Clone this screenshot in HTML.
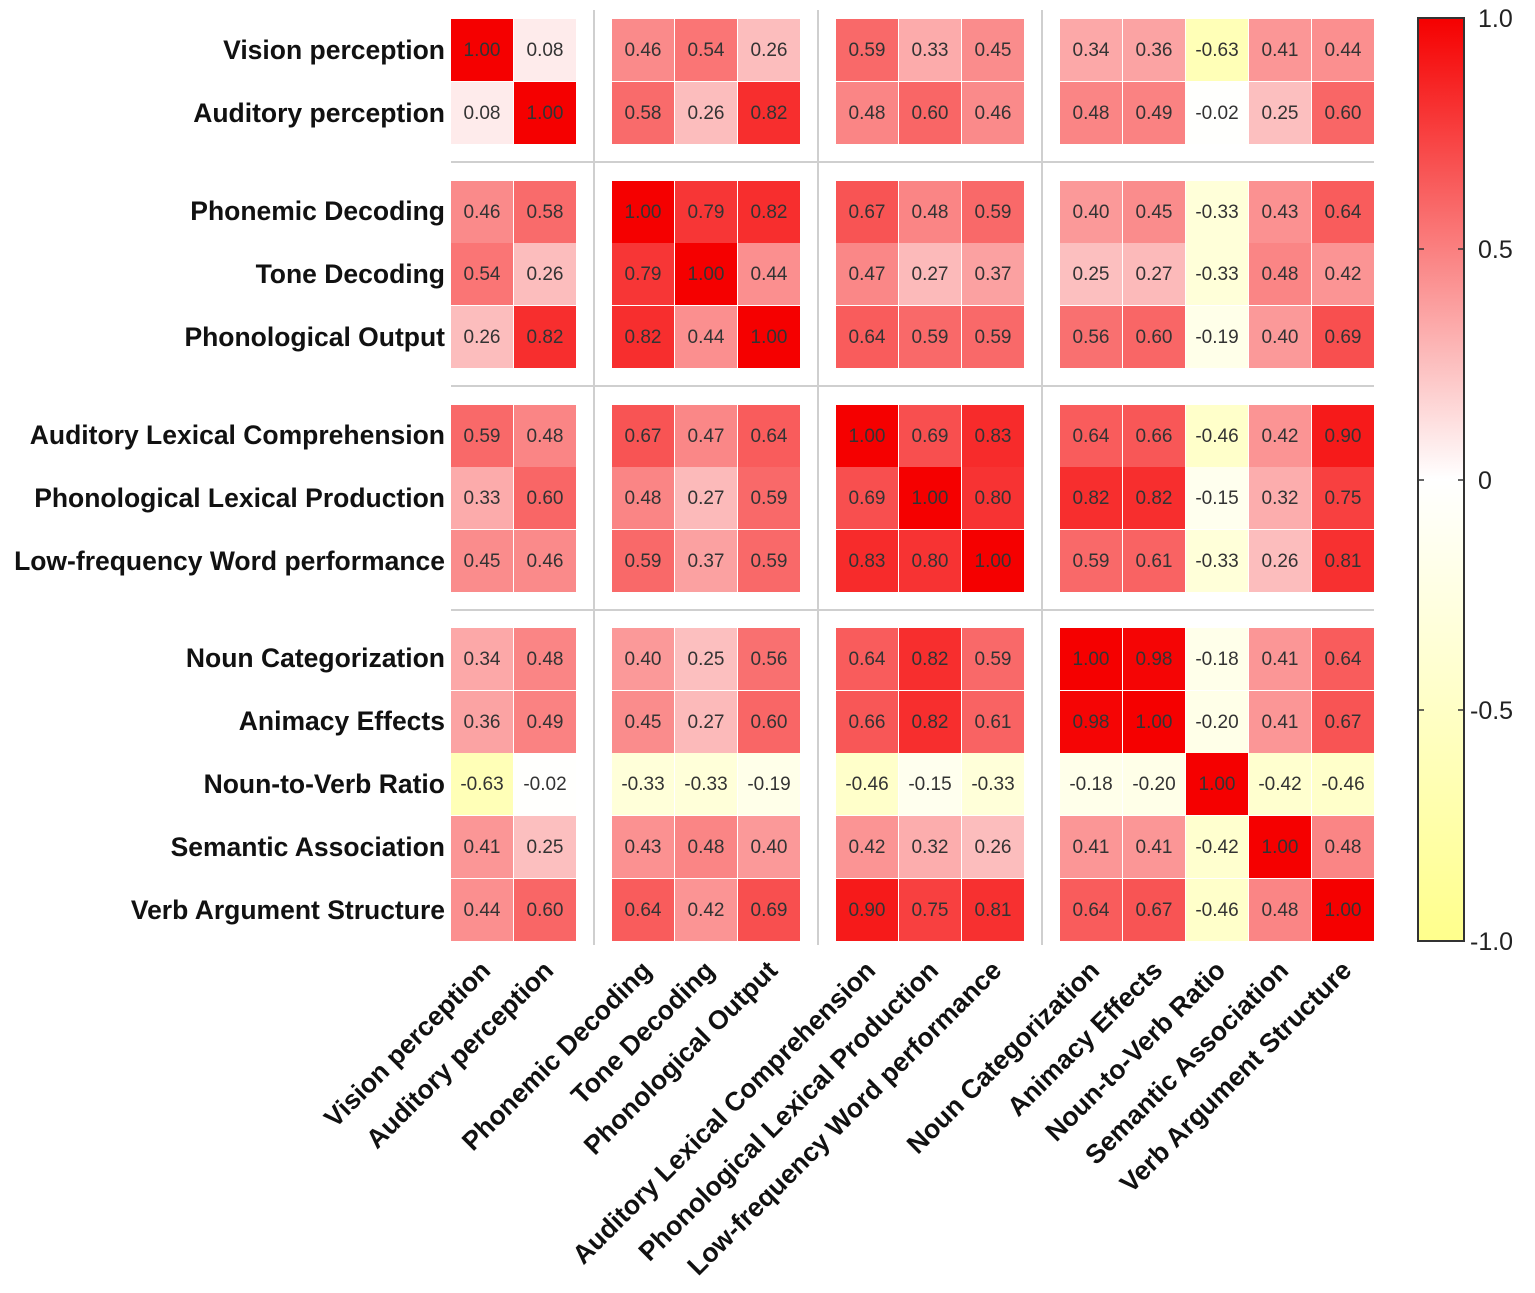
<!DOCTYPE html>
<html><head><meta charset="utf-8"><style>
html,body{margin:0;padding:0;background:#fff;}
svg{display:block;font-family:"Liberation Sans",Arial,sans-serif;}
.rl{font-weight:bold;font-size:26.5px;fill:#111;text-anchor:end;}
.v{font-size:19px;fill:#333;text-anchor:middle;}
.cb{font-size:25px;fill:#222;}
</style></head><body>
<svg width="1535" height="1293" viewBox="0 0 1535 1293" xmlns="http://www.w3.org/2000/svg">
<defs><linearGradient id="g" x1="0" y1="0" x2="0" y2="1">
<stop offset="0" stop-color="#f50000"/><stop offset="0.5" stop-color="#ffffff"/><stop offset="1" stop-color="#ffff8c"/>
</linearGradient></defs>
<g stroke="#cfcfcf" stroke-width="2">
<line x1="594" y1="10" x2="594" y2="945"/><line x1="818" y1="10" x2="818" y2="945"/><line x1="1042" y1="10" x2="1042" y2="945"/>
<line x1="451" y1="162" x2="1374" y2="162"/><line x1="451" y1="386" x2="1374" y2="386"/><line x1="451" y1="610" x2="1374" y2="610"/>
</g>
<g>
<g transform="translate(0,19)"><rect x="451" width="62" height="62" fill="rgb(245,0,0)"/><rect x="514" width="62" height="62" fill="rgb(254,235,235)"/><rect x="612" width="62" height="62" fill="rgb(250,138,138)"/><rect x="675" width="62" height="62" fill="rgb(250,117,117)"/><rect x="738" width="62" height="62" fill="rgb(252,189,189)"/><rect x="836" width="62" height="62" fill="rgb(249,105,105)"/><rect x="899" width="62" height="62" fill="rgb(252,171,171)"/><rect x="962" width="62" height="62" fill="rgb(250,140,140)"/><rect x="1060" width="62" height="62" fill="rgb(252,168,168)"/><rect x="1123" width="62" height="62" fill="rgb(251,163,163)"/><rect x="1186" width="62" height="62" fill="rgb(255,255,183)"/><rect x="1249" width="62" height="62" fill="rgb(251,150,150)"/><rect x="1312" width="62" height="62" fill="rgb(251,143,143)"/></g>
<g transform="translate(0,82)"><rect x="451" width="62" height="62" fill="rgb(254,235,235)"/><rect x="514" width="62" height="62" fill="rgb(245,0,0)"/><rect x="612" width="62" height="62" fill="rgb(249,107,107)"/><rect x="675" width="62" height="62" fill="rgb(252,189,189)"/><rect x="738" width="62" height="62" fill="rgb(247,46,46)"/><rect x="836" width="62" height="62" fill="rgb(250,133,133)"/><rect x="899" width="62" height="62" fill="rgb(249,102,102)"/><rect x="962" width="62" height="62" fill="rgb(250,138,138)"/><rect x="1060" width="62" height="62" fill="rgb(250,133,133)"/><rect x="1123" width="62" height="62" fill="rgb(250,130,130)"/><rect x="1186" width="62" height="62" fill="rgb(255,255,253)"/><rect x="1249" width="62" height="62" fill="rgb(252,191,191)"/><rect x="1312" width="62" height="62" fill="rgb(249,102,102)"/></g>
<g transform="translate(0,181)"><rect x="451" width="62" height="62" fill="rgb(250,138,138)"/><rect x="514" width="62" height="62" fill="rgb(249,107,107)"/><rect x="612" width="62" height="62" fill="rgb(245,0,0)"/><rect x="675" width="62" height="62" fill="rgb(247,54,54)"/><rect x="738" width="62" height="62" fill="rgb(247,46,46)"/><rect x="836" width="62" height="62" fill="rgb(248,84,84)"/><rect x="899" width="62" height="62" fill="rgb(250,133,133)"/><rect x="962" width="62" height="62" fill="rgb(249,105,105)"/><rect x="1060" width="62" height="62" fill="rgb(251,153,153)"/><rect x="1123" width="62" height="62" fill="rgb(250,140,140)"/><rect x="1186" width="62" height="62" fill="rgb(255,255,217)"/><rect x="1249" width="62" height="62" fill="rgb(251,145,145)"/><rect x="1312" width="62" height="62" fill="rgb(249,92,92)"/></g>
<g transform="translate(0,243)"><rect x="451" width="62" height="62" fill="rgb(250,117,117)"/><rect x="514" width="62" height="62" fill="rgb(252,189,189)"/><rect x="612" width="62" height="62" fill="rgb(247,54,54)"/><rect x="675" width="62" height="62" fill="rgb(245,0,0)"/><rect x="738" width="62" height="62" fill="rgb(251,143,143)"/><rect x="836" width="62" height="62" fill="rgb(250,135,135)"/><rect x="899" width="62" height="62" fill="rgb(252,186,186)"/><rect x="962" width="62" height="62" fill="rgb(251,161,161)"/><rect x="1060" width="62" height="62" fill="rgb(252,191,191)"/><rect x="1123" width="62" height="62" fill="rgb(252,186,186)"/><rect x="1186" width="62" height="62" fill="rgb(255,255,217)"/><rect x="1249" width="62" height="62" fill="rgb(250,133,133)"/><rect x="1312" width="62" height="62" fill="rgb(251,148,148)"/></g>
<g transform="translate(0,306)"><rect x="451" width="62" height="62" fill="rgb(252,189,189)"/><rect x="514" width="62" height="62" fill="rgb(247,46,46)"/><rect x="612" width="62" height="62" fill="rgb(247,46,46)"/><rect x="675" width="62" height="62" fill="rgb(251,143,143)"/><rect x="738" width="62" height="62" fill="rgb(245,0,0)"/><rect x="836" width="62" height="62" fill="rgb(249,92,92)"/><rect x="899" width="62" height="62" fill="rgb(249,105,105)"/><rect x="962" width="62" height="62" fill="rgb(249,105,105)"/><rect x="1060" width="62" height="62" fill="rgb(249,112,112)"/><rect x="1123" width="62" height="62" fill="rgb(249,102,102)"/><rect x="1186" width="62" height="62" fill="rgb(255,255,233)"/><rect x="1249" width="62" height="62" fill="rgb(251,153,153)"/><rect x="1312" width="62" height="62" fill="rgb(248,79,79)"/></g>
<g transform="translate(0,405)"><rect x="451" width="62" height="62" fill="rgb(249,105,105)"/><rect x="514" width="62" height="62" fill="rgb(250,133,133)"/><rect x="612" width="62" height="62" fill="rgb(248,84,84)"/><rect x="675" width="62" height="62" fill="rgb(250,135,135)"/><rect x="738" width="62" height="62" fill="rgb(249,92,92)"/><rect x="836" width="62" height="62" fill="rgb(245,0,0)"/><rect x="899" width="62" height="62" fill="rgb(248,79,79)"/><rect x="962" width="62" height="62" fill="rgb(247,43,43)"/><rect x="1060" width="62" height="62" fill="rgb(249,92,92)"/><rect x="1123" width="62" height="62" fill="rgb(248,87,87)"/><rect x="1186" width="62" height="62" fill="rgb(255,255,202)"/><rect x="1249" width="62" height="62" fill="rgb(251,148,148)"/><rect x="1312" width="62" height="62" fill="rgb(246,26,26)"/></g>
<g transform="translate(0,467)"><rect x="451" width="62" height="62" fill="rgb(252,171,171)"/><rect x="514" width="62" height="62" fill="rgb(249,102,102)"/><rect x="612" width="62" height="62" fill="rgb(250,133,133)"/><rect x="675" width="62" height="62" fill="rgb(252,186,186)"/><rect x="738" width="62" height="62" fill="rgb(249,105,105)"/><rect x="836" width="62" height="62" fill="rgb(248,79,79)"/><rect x="899" width="62" height="62" fill="rgb(245,0,0)"/><rect x="962" width="62" height="62" fill="rgb(247,51,51)"/><rect x="1060" width="62" height="62" fill="rgb(247,46,46)"/><rect x="1123" width="62" height="62" fill="rgb(247,46,46)"/><rect x="1186" width="62" height="62" fill="rgb(255,255,238)"/><rect x="1249" width="62" height="62" fill="rgb(252,173,173)"/><rect x="1312" width="62" height="62" fill="rgb(248,64,64)"/></g>
<g transform="translate(0,530)"><rect x="451" width="62" height="62" fill="rgb(250,140,140)"/><rect x="514" width="62" height="62" fill="rgb(250,138,138)"/><rect x="612" width="62" height="62" fill="rgb(249,105,105)"/><rect x="675" width="62" height="62" fill="rgb(251,161,161)"/><rect x="738" width="62" height="62" fill="rgb(249,105,105)"/><rect x="836" width="62" height="62" fill="rgb(247,43,43)"/><rect x="899" width="62" height="62" fill="rgb(247,51,51)"/><rect x="962" width="62" height="62" fill="rgb(245,0,0)"/><rect x="1060" width="62" height="62" fill="rgb(249,105,105)"/><rect x="1123" width="62" height="62" fill="rgb(249,99,99)"/><rect x="1186" width="62" height="62" fill="rgb(255,255,217)"/><rect x="1249" width="62" height="62" fill="rgb(252,189,189)"/><rect x="1312" width="62" height="62" fill="rgb(247,48,48)"/></g>
<g transform="translate(0,628)"><rect x="451" width="62" height="62" fill="rgb(252,168,168)"/><rect x="514" width="62" height="62" fill="rgb(250,133,133)"/><rect x="612" width="62" height="62" fill="rgb(251,153,153)"/><rect x="675" width="62" height="62" fill="rgb(252,191,191)"/><rect x="738" width="62" height="62" fill="rgb(249,112,112)"/><rect x="836" width="62" height="62" fill="rgb(249,92,92)"/><rect x="899" width="62" height="62" fill="rgb(247,46,46)"/><rect x="962" width="62" height="62" fill="rgb(249,105,105)"/><rect x="1060" width="62" height="62" fill="rgb(245,0,0)"/><rect x="1123" width="62" height="62" fill="rgb(245,5,5)"/><rect x="1186" width="62" height="62" fill="rgb(255,255,234)"/><rect x="1249" width="62" height="62" fill="rgb(251,150,150)"/><rect x="1312" width="62" height="62" fill="rgb(249,92,92)"/></g>
<g transform="translate(0,691)"><rect x="451" width="62" height="62" fill="rgb(251,163,163)"/><rect x="514" width="62" height="62" fill="rgb(250,130,130)"/><rect x="612" width="62" height="62" fill="rgb(250,140,140)"/><rect x="675" width="62" height="62" fill="rgb(252,186,186)"/><rect x="738" width="62" height="62" fill="rgb(249,102,102)"/><rect x="836" width="62" height="62" fill="rgb(248,87,87)"/><rect x="899" width="62" height="62" fill="rgb(247,46,46)"/><rect x="962" width="62" height="62" fill="rgb(249,99,99)"/><rect x="1060" width="62" height="62" fill="rgb(245,5,5)"/><rect x="1123" width="62" height="62" fill="rgb(245,0,0)"/><rect x="1186" width="62" height="62" fill="rgb(255,255,232)"/><rect x="1249" width="62" height="62" fill="rgb(251,150,150)"/><rect x="1312" width="62" height="62" fill="rgb(248,84,84)"/></g>
<g transform="translate(0,753)"><rect x="451" width="62" height="62" fill="rgb(255,255,183)"/><rect x="514" width="62" height="62" fill="rgb(255,255,253)"/><rect x="612" width="62" height="62" fill="rgb(255,255,217)"/><rect x="675" width="62" height="62" fill="rgb(255,255,217)"/><rect x="738" width="62" height="62" fill="rgb(255,255,233)"/><rect x="836" width="62" height="62" fill="rgb(255,255,202)"/><rect x="899" width="62" height="62" fill="rgb(255,255,238)"/><rect x="962" width="62" height="62" fill="rgb(255,255,217)"/><rect x="1060" width="62" height="62" fill="rgb(255,255,234)"/><rect x="1123" width="62" height="62" fill="rgb(255,255,232)"/><rect x="1186" width="62" height="62" fill="rgb(245,0,0)"/><rect x="1249" width="62" height="62" fill="rgb(255,255,207)"/><rect x="1312" width="62" height="62" fill="rgb(255,255,202)"/></g>
<g transform="translate(0,816)"><rect x="451" width="62" height="62" fill="rgb(251,150,150)"/><rect x="514" width="62" height="62" fill="rgb(252,191,191)"/><rect x="612" width="62" height="62" fill="rgb(251,145,145)"/><rect x="675" width="62" height="62" fill="rgb(250,133,133)"/><rect x="738" width="62" height="62" fill="rgb(251,153,153)"/><rect x="836" width="62" height="62" fill="rgb(251,148,148)"/><rect x="899" width="62" height="62" fill="rgb(252,173,173)"/><rect x="962" width="62" height="62" fill="rgb(252,189,189)"/><rect x="1060" width="62" height="62" fill="rgb(251,150,150)"/><rect x="1123" width="62" height="62" fill="rgb(251,150,150)"/><rect x="1186" width="62" height="62" fill="rgb(255,255,207)"/><rect x="1249" width="62" height="62" fill="rgb(245,0,0)"/><rect x="1312" width="62" height="62" fill="rgb(250,133,133)"/></g>
<g transform="translate(0,879)"><rect x="451" width="62" height="62" fill="rgb(251,143,143)"/><rect x="514" width="62" height="62" fill="rgb(249,102,102)"/><rect x="612" width="62" height="62" fill="rgb(249,92,92)"/><rect x="675" width="62" height="62" fill="rgb(251,148,148)"/><rect x="738" width="62" height="62" fill="rgb(248,79,79)"/><rect x="836" width="62" height="62" fill="rgb(246,26,26)"/><rect x="899" width="62" height="62" fill="rgb(248,64,64)"/><rect x="962" width="62" height="62" fill="rgb(247,48,48)"/><rect x="1060" width="62" height="62" fill="rgb(249,92,92)"/><rect x="1123" width="62" height="62" fill="rgb(248,84,84)"/><rect x="1186" width="62" height="62" fill="rgb(255,255,202)"/><rect x="1249" width="62" height="62" fill="rgb(250,133,133)"/><rect x="1312" width="62" height="62" fill="rgb(245,0,0)"/></g>
</g>
<g class="rl">
<text x="445" y="59">Vision perception</text>
<text x="445" y="122">Auditory perception</text>
<text x="445" y="220">Phonemic Decoding</text>
<text x="445" y="283">Tone Decoding</text>
<text x="445" y="346">Phonological Output</text>
<text x="445" y="444">Auditory Lexical Comprehension</text>
<text x="445" y="507">Phonological Lexical Production</text>
<text x="445" y="570">Low-frequency Word performance</text>
<text x="445" y="667">Noun Categorization</text>
<text x="445" y="730">Animacy Effects</text>
<text x="445" y="793">Noun-to-Verb Ratio</text>
<text x="445" y="856">Semantic Association</text>
<text x="445" y="919">Verb Argument Structure</text>
</g>
<g class="rl">
<text transform="translate(492,972) rotate(-45)">Vision perception</text>
<text transform="translate(555,972) rotate(-45)">Auditory perception</text>
<text transform="translate(653,972) rotate(-45)">Phonemic Decoding</text>
<text transform="translate(716,972) rotate(-45)">Tone Decoding</text>
<text transform="translate(779,972) rotate(-45)">Phonological Output</text>
<text transform="translate(877,972) rotate(-45)">Auditory Lexical Comprehension</text>
<text transform="translate(940,972) rotate(-45)">Phonological Lexical Production</text>
<text transform="translate(1003,972) rotate(-45)">Low-frequency Word performance</text>
<text transform="translate(1101,972) rotate(-45)">Noun Categorization</text>
<text transform="translate(1164,972) rotate(-45)">Animacy Effects</text>
<text transform="translate(1227,972) rotate(-45)">Noun-to-Verb Ratio</text>
<text transform="translate(1290,972) rotate(-45)">Semantic Association</text>
<text transform="translate(1353,972) rotate(-45)">Verb Argument Structure</text>
</g>
<g class="v">
<text y="56"><tspan x="482">1.00</tspan><tspan x="545">0.08</tspan><tspan x="643">0.46</tspan><tspan x="706">0.54</tspan><tspan x="769">0.26</tspan><tspan x="867">0.59</tspan><tspan x="930">0.33</tspan><tspan x="993">0.45</tspan><tspan x="1091">0.34</tspan><tspan x="1154">0.36</tspan><tspan x="1217">-0.63</tspan><tspan x="1280">0.41</tspan><tspan x="1343">0.44</tspan></text>
<text y="119"><tspan x="482">0.08</tspan><tspan x="545">1.00</tspan><tspan x="643">0.58</tspan><tspan x="706">0.26</tspan><tspan x="769">0.82</tspan><tspan x="867">0.48</tspan><tspan x="930">0.60</tspan><tspan x="993">0.46</tspan><tspan x="1091">0.48</tspan><tspan x="1154">0.49</tspan><tspan x="1217">-0.02</tspan><tspan x="1280">0.25</tspan><tspan x="1343">0.60</tspan></text>
<text y="218"><tspan x="482">0.46</tspan><tspan x="545">0.58</tspan><tspan x="643">1.00</tspan><tspan x="706">0.79</tspan><tspan x="769">0.82</tspan><tspan x="867">0.67</tspan><tspan x="930">0.48</tspan><tspan x="993">0.59</tspan><tspan x="1091">0.40</tspan><tspan x="1154">0.45</tspan><tspan x="1217">-0.33</tspan><tspan x="1280">0.43</tspan><tspan x="1343">0.64</tspan></text>
<text y="280"><tspan x="482">0.54</tspan><tspan x="545">0.26</tspan><tspan x="643">0.79</tspan><tspan x="706">1.00</tspan><tspan x="769">0.44</tspan><tspan x="867">0.47</tspan><tspan x="930">0.27</tspan><tspan x="993">0.37</tspan><tspan x="1091">0.25</tspan><tspan x="1154">0.27</tspan><tspan x="1217">-0.33</tspan><tspan x="1280">0.48</tspan><tspan x="1343">0.42</tspan></text>
<text y="343"><tspan x="482">0.26</tspan><tspan x="545">0.82</tspan><tspan x="643">0.82</tspan><tspan x="706">0.44</tspan><tspan x="769">1.00</tspan><tspan x="867">0.64</tspan><tspan x="930">0.59</tspan><tspan x="993">0.59</tspan><tspan x="1091">0.56</tspan><tspan x="1154">0.60</tspan><tspan x="1217">-0.19</tspan><tspan x="1280">0.40</tspan><tspan x="1343">0.69</tspan></text>
<text y="442"><tspan x="482">0.59</tspan><tspan x="545">0.48</tspan><tspan x="643">0.67</tspan><tspan x="706">0.47</tspan><tspan x="769">0.64</tspan><tspan x="867">1.00</tspan><tspan x="930">0.69</tspan><tspan x="993">0.83</tspan><tspan x="1091">0.64</tspan><tspan x="1154">0.66</tspan><tspan x="1217">-0.46</tspan><tspan x="1280">0.42</tspan><tspan x="1343">0.90</tspan></text>
<text y="504"><tspan x="482">0.33</tspan><tspan x="545">0.60</tspan><tspan x="643">0.48</tspan><tspan x="706">0.27</tspan><tspan x="769">0.59</tspan><tspan x="867">0.69</tspan><tspan x="930">1.00</tspan><tspan x="993">0.80</tspan><tspan x="1091">0.82</tspan><tspan x="1154">0.82</tspan><tspan x="1217">-0.15</tspan><tspan x="1280">0.32</tspan><tspan x="1343">0.75</tspan></text>
<text y="567"><tspan x="482">0.45</tspan><tspan x="545">0.46</tspan><tspan x="643">0.59</tspan><tspan x="706">0.37</tspan><tspan x="769">0.59</tspan><tspan x="867">0.83</tspan><tspan x="930">0.80</tspan><tspan x="993">1.00</tspan><tspan x="1091">0.59</tspan><tspan x="1154">0.61</tspan><tspan x="1217">-0.33</tspan><tspan x="1280">0.26</tspan><tspan x="1343">0.81</tspan></text>
<text y="665"><tspan x="482">0.34</tspan><tspan x="545">0.48</tspan><tspan x="643">0.40</tspan><tspan x="706">0.25</tspan><tspan x="769">0.56</tspan><tspan x="867">0.64</tspan><tspan x="930">0.82</tspan><tspan x="993">0.59</tspan><tspan x="1091">1.00</tspan><tspan x="1154">0.98</tspan><tspan x="1217">-0.18</tspan><tspan x="1280">0.41</tspan><tspan x="1343">0.64</tspan></text>
<text y="728"><tspan x="482">0.36</tspan><tspan x="545">0.49</tspan><tspan x="643">0.45</tspan><tspan x="706">0.27</tspan><tspan x="769">0.60</tspan><tspan x="867">0.66</tspan><tspan x="930">0.82</tspan><tspan x="993">0.61</tspan><tspan x="1091">0.98</tspan><tspan x="1154">1.00</tspan><tspan x="1217">-0.20</tspan><tspan x="1280">0.41</tspan><tspan x="1343">0.67</tspan></text>
<text y="790"><tspan x="482">-0.63</tspan><tspan x="545">-0.02</tspan><tspan x="643">-0.33</tspan><tspan x="706">-0.33</tspan><tspan x="769">-0.19</tspan><tspan x="867">-0.46</tspan><tspan x="930">-0.15</tspan><tspan x="993">-0.33</tspan><tspan x="1091">-0.18</tspan><tspan x="1154">-0.20</tspan><tspan x="1217">1.00</tspan><tspan x="1280">-0.42</tspan><tspan x="1343">-0.46</tspan></text>
<text y="853"><tspan x="482">0.41</tspan><tspan x="545">0.25</tspan><tspan x="643">0.43</tspan><tspan x="706">0.48</tspan><tspan x="769">0.40</tspan><tspan x="867">0.42</tspan><tspan x="930">0.32</tspan><tspan x="993">0.26</tspan><tspan x="1091">0.41</tspan><tspan x="1154">0.41</tspan><tspan x="1217">-0.42</tspan><tspan x="1280">1.00</tspan><tspan x="1343">0.48</tspan></text>
<text y="916"><tspan x="482">0.44</tspan><tspan x="545">0.60</tspan><tspan x="643">0.64</tspan><tspan x="706">0.42</tspan><tspan x="769">0.69</tspan><tspan x="867">0.90</tspan><tspan x="930">0.75</tspan><tspan x="993">0.81</tspan><tspan x="1091">0.64</tspan><tspan x="1154">0.67</tspan><tspan x="1217">-0.46</tspan><tspan x="1280">0.48</tspan><tspan x="1343">1.00</tspan></text>
</g>
<rect x="1418" y="18" width="46" height="923" fill="url(#g)" stroke="#333" stroke-width="2"/>
<g stroke="#333" stroke-width="1.5">
<line x1="1458" y1="249" x2="1464" y2="249"/><line x1="1458" y1="480" x2="1464" y2="480"/><line x1="1458" y1="710" x2="1464" y2="710"/>
<line x1="1418" y1="249" x2="1424" y2="249"/><line x1="1418" y1="480" x2="1424" y2="480"/><line x1="1418" y1="710" x2="1424" y2="710"/>
</g>
<g class="cb">
<text x="1478" y="27">1.0</text><text x="1478" y="258">0.5</text><text x="1478" y="489">0</text><text x="1470" y="719">-0.5</text><text x="1470" y="950">-1.0</text>
</g>
</svg>
</body></html>
